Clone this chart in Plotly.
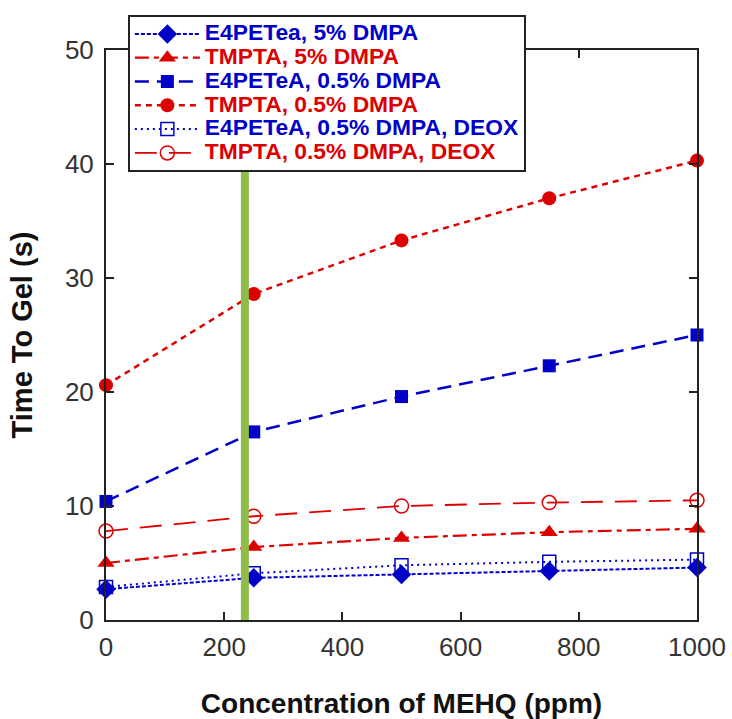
import plotly.graph_objects as go

mehq = [0, 250, 500, 750, 1000]
e4_5 = [2.7, 3.7, 4.0, 4.3, 4.6]
tm_5 = [5.0, 6.4, 7.2, 7.7, 8.0]
e4_05 = [10.4, 16.5, 19.6, 22.3, 25.0]
tm_05 = [20.6, 28.6, 33.3, 37.0, 40.3]
e4_deox = [2.9, 4.1, 4.8, 5.1, 5.3]
tm_deox = [7.8, 9.1, 10.0, 10.3, 10.5]
names = ["E4PETea, 5% DMPA", "TMPTA, 5% DMPA", "E4PETeA, 0.5% DMPA",
         "TMPTA, 0.5% DMPA", "E4PETeA, 0.5% DMPA, DEOX", "TMPTA, 0.5% DMPA, DEOX"]
marker_x = 235

BLUE = "#0000c8"
RED = "#dd0000"
FONT = "Liberation Sans, Arial"

series = [
    (e4_5, names[0], BLUE, "diamond", "4px,2px", 2, 15, False),
    (tm_5, names[1], RED, "triangle-up", "14px,5px,5px,5px", 2.2, 15, False),
    (e4_05, names[2], BLUE, "square", "14px,8px", 2.5, 13, False),
    (tm_05, names[3], RED, "circle", "6px,5px", 2.5, 14, False),
    (e4_deox, names[4], BLUE, "square-open", "2px,4px", 2, 13, True),
    (tm_deox, names[5], RED, "circle-open", "22px,12px", 1.8, 14, True),
]

fig = go.Figure()
for ys, nm, col, sym, dash, lw, ms, op in series:
    fig.add_trace(go.Scatter(
        x=mehq, y=ys, mode="lines+markers",
        name=f"<span style='color:{col};font-size:22.8px'><b>{nm}</b></span>",
        line=dict(color=col, width=lw, dash=dash),
        marker=dict(symbol=sym, size=ms, color=col,
                    line=dict(color=col, width=1.5) if op else dict(width=0)),
        cliponaxis=False,
    ))

fig.add_shape(type="line", x0=marker_x, x1=marker_x, y0=0, y1=50,
              xref="x", yref="y", line=dict(color="#8fbc4a", width=8), layer="above")

axis_common = dict(showline=True, linecolor="#222", linewidth=2, mirror="ticks",
                   ticks="inside", ticklen=8, tickwidth=2, tickcolor="#222",
                   showgrid=False, zeroline=False, automargin=False,
                   tickfont=dict(family=FONT, size=26, color="#333"))

fig.update_layout(
    width=732, height=719,
    margin=dict(l=106, r=35, t=50, b=99, autoexpand=False),
    plot_bgcolor="white", paper_bgcolor="white",
    xaxis=dict(range=[0, 1000], tickvals=[0, 200, 400, 600, 800, 1000],
               ticklabelstandoff=3,
               title=dict(text="<b>Concentration of MEHQ (ppm)</b>", standoff=40,
                          font=dict(family=FONT, size=28, color="#111")),
               **axis_common),
    yaxis=dict(range=[0, 50], tickvals=[0, 10, 20, 30, 40, 50],
               ticklabelstandoff=5,
               title=dict(text="<b>Time To Gel (s)</b>", standoff=24,
                          font=dict(family=FONT, size=29, color="#111")),
               **axis_common),
    legend=dict(x=0.037, y=1.0614, xanchor="left", yanchor="top",
                bgcolor="white", bordercolor="#222", borderwidth=2,
                font=dict(family=FONT, size=16),
                tracegroupgap=0, itemwidth=65),
    showlegend=True,
)

fig.write_html("out.html")
